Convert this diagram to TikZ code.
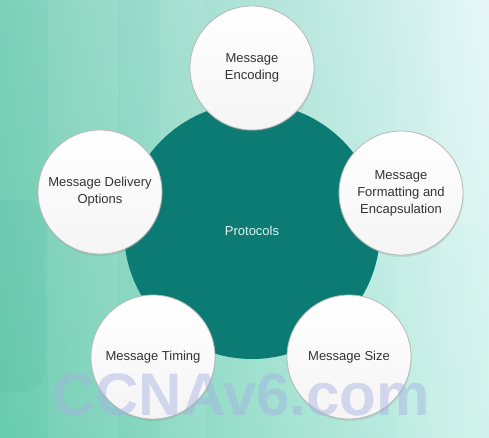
\documentclass[tikz,border=0pt]{standalone}
\usepackage{fontspec}
\setmainfont{Liberation Sans}
\usetikzlibrary{shadows}
\definecolor{bgleft}{HTML}{60C6A9}
\definecolor{bgmid}{HTML}{8FDACF}
\definecolor{bgright}{HTML}{DCF5F5}
\definecolor{bgfoot}{HTML}{8EE8C0}
\definecolor{hubteal}{HTML}{0B7B74}
\definecolor{hubtext}{HTML}{E2F6F1}
\definecolor{rimgray}{HTML}{B8B8B8}
\definecolor{labelgray}{HTML}{333333}
\definecolor{markblue}{HTML}{A4B0E2}
\begin{document}
\begin{tikzpicture}[x=1pt,y=-1pt,
  bubble/.style={circle, minimum size=124pt, inner sep=0pt, align=center,
    font=\fontsize{13}{17}\selectfont, text=labelgray,
    draw=rimgray, line width=0.8pt,
    top color=white, bottom color=black!4,
    drop shadow={opacity=0.2, shadow xshift=0.5pt, shadow yshift=-2pt}},
  hub/.style={circle, minimum size=256pt, inner sep=0pt, fill=hubteal,
    font=\fontsize{13}{16}\selectfont, text=hubtext},
  band/.style={fill=white, opacity=0.06}
]
% background
\useasboundingbox (0,0) rectangle (489,438);
\shade[left color=bgleft, middle color=bgmid, right color=bgright] (0,0) rectangle (489,438);
\shade[top color=white, bottom color=bgfoot, opacity=0.18] (0,0) rectangle (489,438);
% soft vertical bands
\fill[band] (48,0) rectangle (118,438);
\fill[band] (160,0) rectangle (205,438);
\fill[band] (395,0) rectangle (430,438);
\fill[band, opacity=0.1] (430,0) rectangle (489,438);
\fill[hubteal, opacity=0.04, rounded corners=22pt] (-30,200) rectangle (45,392);
\fill[white, opacity=0.08, rounded corners=28pt] (440,-30) rectangle (520,230);

% central hub
\node[hub] (protocols) at (252,231) {Protocols};

% surrounding bubbles
\node[bubble] (encoding) at (252,68) {Message\\Encoding};
\node[bubble] (formatting) at (401,193) {Message\\Formatting and\\Encapsulation};
\node[bubble] (size) at (349,357) {Message Size};
\node[bubble] (timing) at (153,357) {Message Timing};
\node[bubble] (delivery) at (100,192) {Message Delivery\\Options};

% watermark
\node[anchor=base, font=\bfseries\fontsize{60}{60}\selectfont, text=markblue,
  opacity=0.45, inner sep=0pt] (mark) at (241,415) {CCNAv6.com};
\end{tikzpicture}
\end{document}
